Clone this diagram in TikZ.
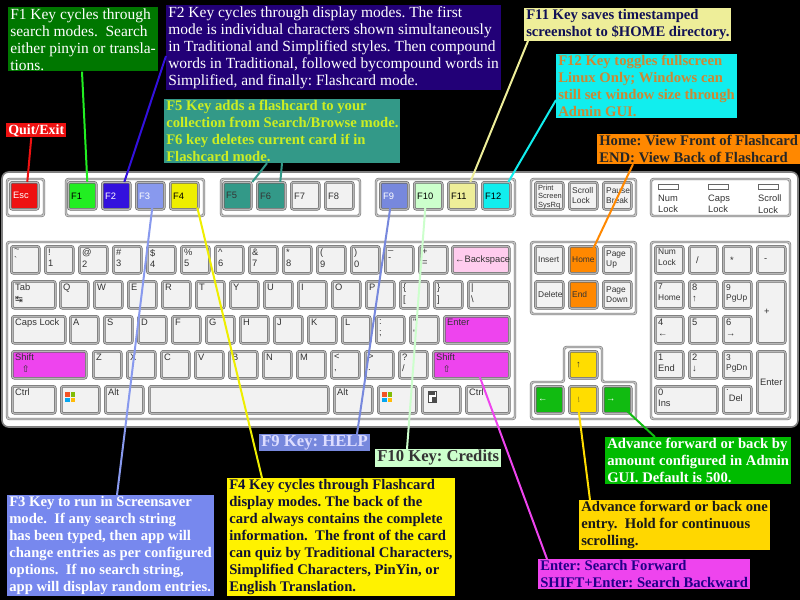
\documentclass[tikz,border=0pt]{standalone}
\usepackage{fontspec}
\setmainfont{Liberation Serif}
\newfontfamily\keyfont{Liberation Sans}
\newfontfamily\symfont{DejaVu Sans}
\usetikzlibrary{calc}
\frenchspacing

\definecolor{escred}{HTML}{EE1111}
\definecolor{fonegreen}{HTML}{22EE22}
\definecolor{ftwoblue}{HTML}{3311DD}
\definecolor{fthreeblue}{HTML}{8899EE}
\definecolor{ffouryellow}{HTML}{EEEE00}
\definecolor{fiveteal}{HTML}{339988}
\definecolor{nineblue}{HTML}{7788DD}
\definecolor{tengreen}{HTML}{CCFFCC}
\definecolor{elevenyellow}{HTML}{EEEE99}
\definecolor{twelvecyan}{HTML}{11EEEE}
\definecolor{backpink}{HTML}{FFCCEE}
\definecolor{entermag}{HTML}{EE44EE}
\definecolor{homeorange}{HTML}{FF8800}
\definecolor{updownyellow}{HTML}{FFDD00}
\definecolor{leftrightgreen}{HTML}{11BB11}
\definecolor{fonebox}{HTML}{007700}
\definecolor{ftwobox}{HTML}{220077}
\definecolor{fivetext}{HTML}{CCEE22}
\definecolor{elevtext}{HTML}{111155}
\definecolor{twelvetext}{HTML}{CC8833}
\definecolor{ninetext}{HTML}{DDDDFF}
\definecolor{threebox}{HTML}{7788EE}
\definecolor{fourtext}{HTML}{111133}
\definecolor{lrbox}{HTML}{00BB00}
\definecolor{udbox}{HTML}{FFD700}
\definecolor{entertext}{HTML}{220088}
\definecolor{winred}{HTML}{F35325}
\definecolor{wingreen}{HTML}{81BC06}
\definecolor{winblue}{HTML}{05A6F0}
\definecolor{winyellow}{HTML}{FFBA08}

\tikzset{
  keycap/.style={draw=black!60, fill=black!5, line width=0.45pt, double=black!28, double distance=0.9pt,
    rounded corners=1.5pt, inner sep=0pt, anchor=north west, minimum width=21pt, minimum height=20.25pt},
  wide/.style={minimum width=#1*0.75pt},
  tall/.style={minimum height=#1*0.75pt},
  keylab/.style={anchor=north west, inner sep=2.2pt, align=left, font=\keyfont\fontsize{7}{8.3}\selectfont, text=black!80},
  keymid/.style={keylab, anchor=west},
  navlab/.style={keymid, font=\keyfont\fontsize{6.3}{7.6}\selectfont},
  group/.style={draw=black!55, fill=white, line width=0.45pt, double=black!22, double distance=0.9pt, rounded corners=2pt},
  note/.style={anchor=north west, align=left, inner xsep=1.5pt, inner ysep=0.8pt, font=\fontsize{11.6}{12.75}\selectfont},
  boldnote/.style={note, font=\bfseries\fontsize{11}{12.75}\selectfont},
  bignote/.style={note, font=\bfseries\fontsize{12.5}{14}\selectfont},
  wire/.style={line width=1.5pt}
}

\begin{document}
\begin{tikzpicture}[x=0.75pt, y=-0.75pt]
\useasboundingbox (0,0) rectangle (800,600);
\fill[black] (0,0) rectangle (800,600);

% keyboard body and key groups
\draw[draw=black!50, fill=white, line width=1.2pt, rounded corners=5pt] (2,172) rectangle (798,427);
\draw[group] (7,179) rectangle (44,216);
\draw[group] (66,179) rectangle (204,216);
\draw[group] (221,179) rectangle (360,216);
\draw[group] (376,179) rectangle (515,216);
\draw[group] (531,179) rectangle (636,216);
\draw[group] (651,179) rectangle (790,216);
\draw[group] (7,242) rectangle (515,419);
\draw[group] (531,242) rectangle (636,314);
\draw[group] (564,347) -- (602,347) -- (602,382) -- (636,382) -- (636,419) -- (531,419) -- (531,382) -- (564,382) -- cycle;
\draw[group] (651,242) rectangle (790,419);

% function row
\node[keycap, fill=escred, label={[keymid, text=white]west:Esc}] (esc) at (10,182) {};
\foreach \k/\lab/\col/\tc [count=\i from 0] in {f1/F1/fonegreen/black, f2/F2/ftwoblue/white, f3/F3/fthreeblue/white, f4/F4/ffouryellow/black}
  \node[keycap, fill=\col, label={[keymid, text=\tc]west:\lab}] (\k) at ({68+34*\i},182) {};
\foreach \k/\lab/\col [count=\i from 0] in {f5/F5/fiveteal, f6/F6/fiveteal, f7/F7/black!5, f8/F8/black!5}
  \node[keycap, fill=\col, label={[keymid]west:\lab}] (\k) at ({223+34*\i},182) {};
\foreach \k/\lab/\col/\tc [count=\i from 0] in {f9/F9/nineblue/white, f10/F10/tengreen/black, f11/F11/elevenyellow/black, f12/F12/twelvecyan/black}
  \node[keycap, fill=\col, label={[keymid, text=\tc]west:\lab}] (\k) at ({380+34*\i},182) {};
\node[keycap, label={[keylab, font=\keyfont\fontsize{5.6}{6.2}\selectfont]north west:Print\\Screen\\SysRq}] (prtsc) at (535,182) {};
\node[keycap, label={[navlab]west:Scroll\\Lock}] (scrlk) at (569,182) {};
\node[keycap, label={[navlab]west:Pause\\Break}] (pause) at (603,182) {};

% lock lights
\foreach \k/\lab [count=\i from 0] in {numled/{Num\\Lock}, capsled/{Caps\\Lock}, scrollled/{Scroll\\Lock}} {
  \node[draw=black!60, fill=white, minimum width=15pt, minimum height=3.5pt, inner sep=0pt, anchor=north west] (\k) at ({658+50*\i},184) {};
  \node[keylab] (\k-lab) at ({655+50*\i},192) {\lab};
}

% main block
\foreach \lab [count=\i from 0] in {{\textasciitilde\\`}, {!\\1}, {@\\2}, {\#\\3}, {\$\\4}, {\%\\5}, {\textasciicircum\\6}, {\&\\7}, {*\\8}, {(\\9}, {)\\0}, {\_\\-}, {+\\=}}
  \node[keycap, label={[keylab]north west:\lab}] (num\i) at ({11+34*\i},246) {};
\node[keycap, wide=57, fill=backpink, label={[keymid]west:←Backspace}] (bksp) at (452,246) {};

\node[keycap, wide=43, label={[keylab]north west:Tab\\{\symfont ↹}}] (tab) at (12,281) {};
\foreach \k/\lab [count=\i from 0] in {q/Q, w/W, e/E, r/R, t/T, y/Y, u/U, i/I, o/O, p/P, lbrack/{\{\\{[}}, rbrack/{\}\\{]}}}
  \node[keycap, label={[keylab]north west:\lab}] (\k) at ({60+34*\i},281) {};
\node[keycap, wide=41, label={[keylab]north west:|\\\textbackslash}] (bslash) at (468,281) {};

\node[keycap, wide=53, label={[keylab]north west:Caps Lock}] (caps) at (12,316) {};
\foreach \k/\lab [count=\i from 0] in {a/A, s/S, d/D, f/F, g/G, h/H, j/J, k/K, l/L, semi/{:\\;}, quote/{"\\'}}
  \node[keycap, label={[keylab]north west:\lab}] (\k) at ({70+34*\i},316) {};
\node[keycap, wide=65, fill=entermag, label={[keylab]north west:Enter}] (enter) at (444,316) {};

\node[keycap, wide=74, fill=entermag, label={[keylab]north west:Shift\\\hspace{5pt}{\symfont ⇧}}] (lshift) at (12,351) {};
\foreach \k/\lab [count=\i from 0] in {z/Z, x/X, c/C, v/V, b/B, n/N, m/M, comma/{<\\,}, period/{>\\.}, slash/{?\\/}}
  \node[keycap, label={[keylab]north west:\lab}] (\k) at ({93+34*\i},351) {};
\node[keycap, wide=76, fill=entermag, label={[keylab]north west:Shift\\\hspace{5pt}{\symfont ⇧}}] (rshift) at (433,351) {};

\node[keycap, wide=43, label={[keylab]north west:Ctrl}] (lctrl) at (12,386) {};
\node[keycap, wide=38] (lwin) at (61,386) {};
\node[keycap, wide=38, label={[keylab]north west:Alt}] (lalt) at (105,386) {};
\node[keycap, wide=179] (space) at (149,386) {};
\node[keycap, wide=38, label={[keylab]north west:Alt}] (ralt) at (334,386) {};
\node[keycap, wide=38] (rwin) at (378,386) {};
\node[keycap, wide=38] (menu) at (422,386) {};
\node[keycap, wide=43, label={[keylab]north west:Ctrl}] (rctrl) at (466,386) {};
\foreach \w in {lwin, rwin} {
  \fill[winred] ($(\w.north west)+(4,6)$) rectangle +(4.5,4.5);
  \fill[wingreen] ($(\w.north west)+(9.5,6)$) rectangle +(4.5,4.5);
  \fill[winblue] ($(\w.north west)+(4,11.5)$) rectangle +(4.5,4.5);
  \fill[winyellow] ($(\w.north west)+(9.5,11.5)$) rectangle +(4.5,4.5);
}
\draw[black!70, fill=white, line width=0.5pt] ($(menu.north west)+(6,5)$) rectangle +(8,11);
\fill[black!70] ($(menu.north west)+(7,6)$) rectangle +(6,3);
\fill[black!70] ($(menu.north west)+(10,11)$) rectangle +(5,5);

% navigation and arrows
\node[keycap, label={[navlab]west:Insert}] (insert) at (535,246) {};
\node[keycap, fill=homeorange, label={[navlab]west:Home}] (homekey) at (569,246) {};
\node[keycap, label={[navlab]west:Page\\Up}] (pgup) at (603,246) {};
\node[keycap, label={[navlab]west:Delete}] (delete) at (535,281) {};
\node[keycap, fill=homeorange, label={[navlab]west:End}] (endkey) at (569,281) {};
\node[keycap, label={[navlab]west:Page\\Down}] (pgdn) at (603,281) {};
\node[keycap, fill=updownyellow, label={[keymid, xshift=3pt]west:↑}] (upkey) at (569,351) {};
\node[keycap, fill=leftrightgreen, label={[keymid, text=white]west:←}] (leftkey) at (535,386) {};
\node[keycap, fill=updownyellow, label={[keymid, xshift=3pt]west:↓}] (downkey) at (569,386) {};
\node[keycap, fill=leftrightgreen, label={[keymid, text=white]west:→}] (rightkey) at (603,386) {};

% numeric pad
\node[keycap, label={[navlab, anchor=north west]north west:Num\\Lock}] (numlock) at (655,246) {};
\node[keycap, label={[keymid, xshift=3pt]west:/}] (kpdiv) at (689,246) {};
\node[keycap, label={[keymid, xshift=3pt]west:*}] (kpmul) at (723,246) {};
\node[keycap, label={[keymid, xshift=3pt]west:-}] (kpsub) at (757,246) {};
\node[keycap, label={[navlab, anchor=north west]north west:7\\Home}] (kp7) at (655,281) {};
\node[keycap, label={[keylab]north west:8\\↑}] (kp8) at (689,281) {};
\node[keycap, label={[navlab, anchor=north west]north west:9\\PgUp}] (kp9) at (723,281) {};
\node[keycap, tall=62, label={[keymid, xshift=3pt]west:+}] (kpadd) at (757,281) {};
\node[keycap, label={[keylab]north west:4\\←}] (kp4) at (655,316) {};
\node[keycap, label={[keylab]north west:5}] (kp5) at (689,316) {};
\node[keycap, label={[keylab]north west:6\\→}] (kp6) at (723,316) {};
\node[keycap, label={[keylab]north west:1\\End}] (kp1) at (655,351) {};
\node[keycap, label={[keylab]north west:2\\↓}] (kp2) at (689,351) {};
\node[keycap, label={[navlab, anchor=north west]north west:3\\PgDn}] (kp3) at (723,351) {};
\node[keycap, tall=62, label={[keymid]west:Enter}] (kpenter) at (757,351) {};
\node[keycap, wide=62, label={[keylab]north west:0\\Ins}] (kp0) at (655,386) {};
\node[keycap, label={[keylab]north west:.\\\ Del}] (kpdot) at (723,386) {};

% notes
\node[note, fill=fonebox, text=white] (f1note) at (8,7) {F1 Key cycles through\\search modes.~ Search\\either pinyin or transla-\\tions.};
\node[note, fill=ftwobox, text=white] (f2note) at (166,5) {F2 Key cycles through display modes. The first\\mode is individual characters shown simultaneously\\in Traditional and Simplified styles. Then compound\\words in Traditional, followed bycompound words in\\Simplified, and finally: Flashcard mode.};
\node[boldnote, fill=fiveteal, text=fivetext] (f5note) at (164,99) {F5 Key adds a flashcard to your\\collection from Search/Browse mode.\\F6 key deletes current card if in\\Flashcard mode.};
\node[boldnote, fill=escred, text=white, font=\bfseries\fontsize{10.5}{12}\selectfont] (quitnote) at (6,123) {Quit/Exit};
\node[boldnote, fill=elevenyellow, text=elevtext] (f11note) at (524,8) {F11 Key saves timestamped\\screenshot to \$HOME directory.};
\node[boldnote, fill=twelvecyan, text=twelvetext] (f12note) at (556,54) {F12 Key toggles fullscreen\\Linux Only; Windows can\\still set window size through\\Admin GUI.};
\node[boldnote, fill=homeorange, text=black!85] (homenote) at (597,134) {Home: View Front of Flashcard\\END: View Back of Flashcard};
\node[bignote, fill=nineblue, text=ninetext] (f9note) at (259,434) {F9 Key: HELP};
\node[bignote, fill=tengreen, text=black!80] (f10note) at (375,449) {F10 Key: Credits};
\node[boldnote, fill=threebox, text=white] (f3note) at (7,495) {F3 Key to run in Screensaver\\mode.~ If any search string\\has been typed, then app will\\change entries as per configured\\options.~ If no search string,\\app will display random entries.};
\node[boldnote, fill=yellow, text=fourtext] (f4note) at (227,478) {F4 Key cycles through Flashcard\\display modes. The back of the\\card always contains the complete\\information.~ The front of the card\\can quiz by Traditional Characters,\\Simplified Characters, PinYin, or\\English Translation.};
\node[boldnote, fill=lrbox, text=white] (lrnote) at (605,437) {Advance forward or back by\\amount configured in Admin\\GUI. Default is 500.};
\node[boldnote, fill=udbox, text=black!90] (udnote) at (579,500) {Advance forward or back one\\entry.~ Hold for continuous\\scrolling.};
\node[boldnote, fill=entermag, text=entertext] (enternote) at (538,559) {Enter: Search Forward\\SHIFT+Enter: Search Backward};

% connectors
\draw[wire, escred] ($(quitnote.south)+(-5,0)$) -- ($(esc.north)+(3,0)$);
\draw[wire, fonegreen] ($(f1note.south west)+(74,0)$) -- ($(f1.north)+(5,0)$);
\draw[wire, ftwoblue] ($(f2note.north west)+(0,51)$) -- ($(f2.north)+(8,0)$);
\draw[wire, fiveteal] ($(f5note.south west)+(103,0)$) -- ($(f5.north)+(15,0)$);
\draw[wire, fiveteal] ($(f5note.south west)+(118,0)$) -- ($(f6.north)+(9,0)$);
\draw[wire, elevenyellow] ($(f11note.south west)+(4,0)$) -- ($(f11.north)+(8,0)$);
\draw[wire, twelvecyan] ($(f12note.north west)+(0,46)$) -- ($(f12.north)+(12,0)$);
\draw[wire, homeorange] ($(homenote.south west)+(36,0)$) -- ($(homekey.north east)+(-5,4)$);
\draw[wire, fthreeblue] ($(f3.south)+(2,-2)$) -- ($(f3note.north west)+(110,0)$);
\draw[wire, ffouryellow] ($(f4.south)+(13,-2)$) -- ($(f4note.north west)+(35,0)$);
\draw[wire, nineblue] ($(f9.south)+(-4,-2)$) -- ($(f9note.north west)+(98,0)$);
\draw[wire, tengreen] ($(f10.south)+(-3,-2)$) -- ($(f10note.north west)+(32,0)$);
\draw[wire, entermag] ($(rshift.south)+(8,-3)$) -- ($(enternote.north west)+(9,0)$);
\draw[wire, updownyellow] ($(downkey.center)+(-6,0)$) -- ($(udnote.north west)+(11,0)$);
\draw[wire, leftrightgreen] ($(rightkey.south east)+(-5,-3)$) -- ($(lrnote.north west)+(50,0)$);
\end{tikzpicture}
\end{document}
